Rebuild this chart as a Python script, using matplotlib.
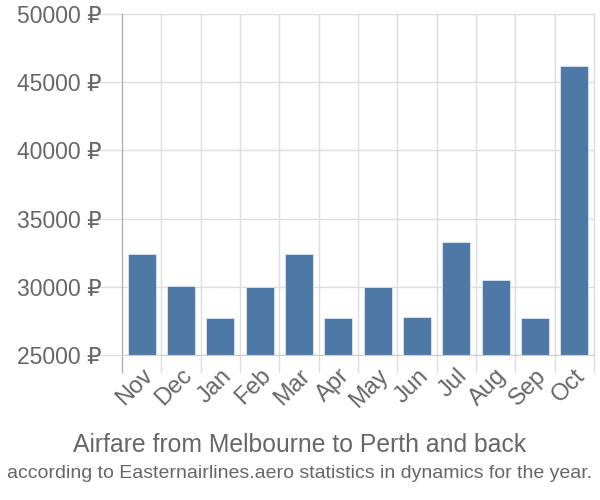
import matplotlib
matplotlib.use("Agg")
import matplotlib.pyplot as plt
import numpy as np

months = ["Nov", "Dec", "Jan", "Feb", "Mar", "Apr", "May", "Jun", "Jul", "Aug", "Sep", "Oct"]
prices = [32380, 30060, 27690, 29970, 32380, 27690, 29970, 27760, 33280, 30520, 27690, 46170]
y_ticks = [25000, 30000, 35000, 40000, 45000, 50000]

title = "Airfare from Melbourne to Perth and back"
subtitle = "according to Easternairlines.aero statistics in dynamics for the year."

plt.rcParams["font.family"] = ["Liberation Sans", "DejaVu Sans"]

fig = plt.figure(figsize=(6, 5), dpi=100)
ax = fig.add_axes([122 / 600, 1 - 355 / 500, (594 - 122) / 600, (355 - 14) / 500])

x = np.arange(len(months))
ax.bar(x, prices, width=0.72, color="#4e79a7", edgecolor="#dfe6ee", linewidth=0.6, zorder=3)

ax.set_xlim(-0.5, len(months) - 0.5)
ax.set_ylim(25000, 50000)

# gridlines: horizontal at ticks, vertical at category boundaries
ax.set_yticks(y_ticks)
ax.set_yticklabels([f"{v} ₽" for v in y_ticks], fontsize=16.5, color="#666666")
ax.set_xticks(x)
ax.set_xticklabels(months, rotation=45, ha="right", rotation_mode="anchor", fontsize=17, color="#666666")
ax.tick_params(axis="x", length=0, pad=7)
ax.tick_params(axis="y", length=19, color="#dddddd", width=1, pad=-4)

for b in np.arange(-0.5, len(months), 1.0):
    ax.axvline(b, color="#dddddd", lw=1, zorder=1, clip_on=False, ymin=-0.05, ymax=1)
for v in y_ticks:
    ax.axhline(v, color="#dddddd", lw=1, zorder=1)

for s in ["top", "right"]:
    ax.spines[s].set_visible(False)
ax.spines["left"].set_color("#aaaaaa")
ax.spines["left"].set_bounds(23750, 50000)
ax.spines["bottom"].set_color("#cccccc")
ax.spines["left"].set_zorder(4)
ax.spines["bottom"].set_zorder(4)

fig.text(0.5, 1 - 445 / 500, title, ha="center", va="center", fontsize=17.8, color="#666666")
fig.text(0.5, 1 - 474 / 500, subtitle, ha="center", va="center", fontsize=14, color="#666666")

fig.savefig("out.png", dpi=100)
